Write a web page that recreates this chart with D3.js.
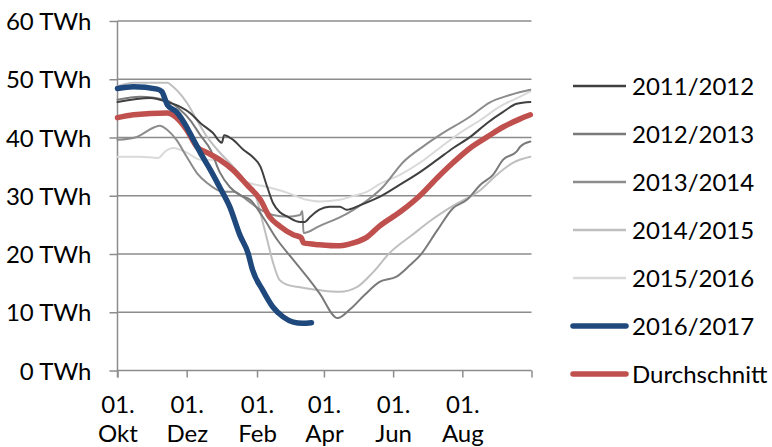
<!DOCTYPE html>
<html>
<head>
<meta charset="utf-8">
<script src="https://cdn.jsdelivr.net/npm/d3@7"></script>
<style>
  html, body { margin: 0; padding: 0; background: #fff; }
  svg { display: block; font-family: Lato, "Open Sans", sans-serif; }
</style>
</head>
<body>
<svg id="chart" width="772" height="447"></svg>
<script>
// ---- Data (day offset from 01. Okt, TWh) ----
const s2011 = [[0,46.1],[29,46.8],[44,46.1],[55,45.3],[64,44.2],[73,42.5],[84,40.8],[92,39.1],[94,40.4],[102,39.6],[111,37.9],[119,36.7],[126,35.0],[132,31.5],[137,28.8],[143,27.2],[150,26.4],[161,25.5],[165,25.5],[170,26.4],[178,27.6],[187,28.1],[196,28.1],[202,27.6],[214,28.4],[231,29.8],[249,31.9],[267,34.1],[282,36.2],[296,38.2],[311,40.1],[326,42.5],[340,44.4],[352,45.8],[364,46.1]];
const s2012 = [[0,46.5],[20,47.0],[44,46.3],[55,44.8],[64,43.0],[73,40.4],[82,37.9],[90,34.1],[99,31.5],[108,30.1],[117,29.3],[128,26.4],[141,22.4],[155,19.0],[167,16.1],[178,13.3],[194,9.0],[205,10.5],[218,13.0],[231,15.2],[246,16.1],[258,18.1],[267,19.8],[282,24.1],[296,27.9],[308,29.3],[320,31.9],[331,33.6],[340,36.2],[352,37.6],[355,38.4],[364,39.3]];
const s2013 = [[0,39.6],[17,40.1],[33,41.8],[37,42.0],[44,41.3],[52,39.6],[61,36.7],[70,33.9],[79,32.2],[93,30.7],[102,30.7],[114,29.3],[126,27.6],[137,26.7],[150,26.4],[161,26.7],[163,27.4],[164,23.6],[178,24.8],[202,26.9],[216,28.6],[234,31.5],[252,35.8],[269,38.4],[284,40.4],[311,43.6],[328,46.0],[346,47.3],[364,48.2]];
const s2014 = [[0,48.8],[14,49.4],[44,49.4],[49,48.7],[61,46.0],[70,43.0],[79,40.1],[88,37.9],[102,35.0],[114,32.2],[123,29.3],[128,25.5],[132,22.4],[137,18.6],[143,15.5],[150,14.7],[161,14.3],[178,13.8],[196,13.5],[211,14.3],[225,16.8],[240,20.2],[260,23.3],[278,26.0],[296,28.3],[320,31.0],[335,33.7],[349,35.7],[364,36.7]];
const s2015 = [[0,36.7],[20,36.7],[36,36.5],[42,37.6],[49,38.2],[61,37.4],[73,36.2],[88,36.2],[102,34.4],[114,32.4],[132,31.5],[150,30.5],[167,29.3],[178,29.0],[196,29.3],[205,29.8],[220,30.7],[231,32.0],[249,33.6],[267,35.7],[284,38.2],[302,40.8],[320,43.0],[337,45.3],[355,47.0],[364,47.9]];
const s2016 = [[0,48.4],[14,48.7],[35,48.3],[39,47.9],[44,45.6],[52,44.4],[61,41.8],[67,39.6],[75,36.7],[82,34.4],[90,31.5],[99,28.1],[108,23.2],[115,20.2],[119,17.3],[128,13.8],[137,10.9],[146,9.2],[155,8.3],[163,8.1],[171,8.2]];
const sAvg = [[0,43.4],[14,43.9],[44,44.2],[52,43.4],[61,41.3],[70,38.4],[79,37.4],[90,36.2],[102,34.4],[114,31.9],[126,29.3],[134,26.4],[143,24.8],[155,23.3],[162,22.8],[164,21.9],[178,21.6],[196,21.4],[208,21.9],[220,22.9],[231,24.8],[249,27.2],[267,30.1],[282,33.1],[296,35.7],[311,38.2],[326,40.1],[340,41.8],[355,43.2],[364,43.9]];

const seriesNames = ["2011/2012","2012/2013","2013/2014","2014/2015","2015/2016","2016/2017","Durchschnitt"];
const yTicks = [0,10,20,30,40,50,60];
const yTickLabels = ["0 TWh","10 TWh","20 TWh","30 TWh","40 TWh","50 TWh","60 TWh"];
const xTickMonths = [0,2,4,6,8,10,12];
const xTickLabels = [["01.","Okt"],["01.","Dez"],["01.","Feb"],["01.","Apr"],["01.","Jun"],["01.","Aug"],["",""]];

// ---- Styles ----
const series = [
  {name: seriesNames[0], data: s2011, color: "#404040", width: 2},
  {name: seriesNames[1], data: s2012, color: "#7a7a7a", width: 2},
  {name: seriesNames[2], data: s2013, color: "#8c8c8c", width: 2},
  {name: seriesNames[3], data: s2014, color: "#bfbfbf", width: 2},
  {name: seriesNames[4], data: s2015, color: "#d9d9d9", width: 2},
  {name: seriesNames[5], data: s2016, color: "#1f497d", width: 5.5},
  {name: seriesNames[6], data: sAvg,  color: "#c0504d", width: 5.5}
];
const drawOrder = [4,3,2,1,0,6,5];

const svg = d3.select("#chart");
const start = new Date(Date.UTC(2016, 9, 1));
const end = d3.utcMonth.offset(start, 12);
const toDate = d => d3.utcDay.offset(start, d);

const x = d3.scaleUtc().domain([start, end]).range([117.5, 531.5]);
const y = d3.scaleLinear().domain([0, 60]).range([370.5, 21]);

const axisColor = "#8c8c8c";

// gridlines
svg.append("g").selectAll("line").data(yTicks.filter(v => v > 0)).join("line")
  .attr("x1", x(start)).attr("x2", x(end))
  .attr("y1", d => y(d)).attr("y2", d => y(d))
  .attr("stroke", axisColor).attr("stroke-width", 1.5);

// y axis
const yAxis = d3.axisLeft(y).tickValues(yTicks).tickSize(8).tickFormat((d,i) => yTickLabels[i]);
const gy = svg.append("g").attr("transform", `translate(${x(start)},0)`).call(yAxis);
gy.select(".domain").attr("stroke", axisColor).attr("stroke-width", 1.5)
  .attr("d", `M0,${y(60)}V${y(0) + 7}`);
gy.selectAll(".tick line").attr("stroke", axisColor).attr("stroke-width", 1.5);
gy.selectAll(".tick text").attr("x", -26).attr("dy", null).attr("dominant-baseline", null)
  .attr("y", 8.5).attr("fill", "#000").style("font-size", "24px").style("font-family", "Lato");

// x axis
const xTickDates = xTickMonths.map(m => d3.utcMonth.offset(start, m));
const xAxis = d3.axisBottom(x).tickValues(xTickDates).tickSize(7).tickFormat(() => "");
const gx = svg.append("g").attr("transform", `translate(0,${y(0)})`).call(xAxis);
gx.select(".domain").attr("stroke", axisColor).attr("stroke-width", 1.5)
  .attr("d", `M${x(start)},0H${x(end)}`);
gx.selectAll(".tick line").attr("stroke", axisColor).attr("stroke-width", 1.5);
gx.selectAll(".tick").each(function(d, i) {
  const t = d3.select(this).append("text").attr("fill", "#000").attr("text-anchor", "middle")
    .style("font-size", "24px").style("font-family", "Lato");
  t.append("tspan").attr("x", 0).attr("y", 42.5).text(xTickLabels[i][0]);
  t.append("tspan").attr("x", 0).attr("y", 71).text(xTickLabels[i][1]);
});

// lines
const line = d3.line().x(d => x(toDate(d[0]))).y(d => y(d[1])).curve(d3.curveMonotoneX);
const gl = svg.append("g");
drawOrder.forEach(i => {
  const s = series[i];
  gl.append("path").datum(s.data).attr("d", line)
    .attr("fill", "none").attr("stroke", s.color).attr("stroke-width", s.width)
    .attr("stroke-linejoin", "round").attr("stroke-linecap", "round");
});

// legend
const lg = svg.append("g");
series.forEach((s, i) => {
  const cy = 86 + i * 48;
  lg.append("line").attr("x1", 573).attr("x2", 626).attr("y1", cy).attr("y2", cy)
    .attr("stroke", s.color).attr("stroke-width", s.width >= 5 ? 5.5 : 2.5)
    .attr("stroke-linecap", s.width >= 5 ? "round" : "butt");
  lg.append("text").attr("x", 632).attr("y", cy + 9).attr("fill", "#000")
    .style("font-size", "24px").style("font-family", "Lato").text(s.name);
});
</script>
</body>
</html>
